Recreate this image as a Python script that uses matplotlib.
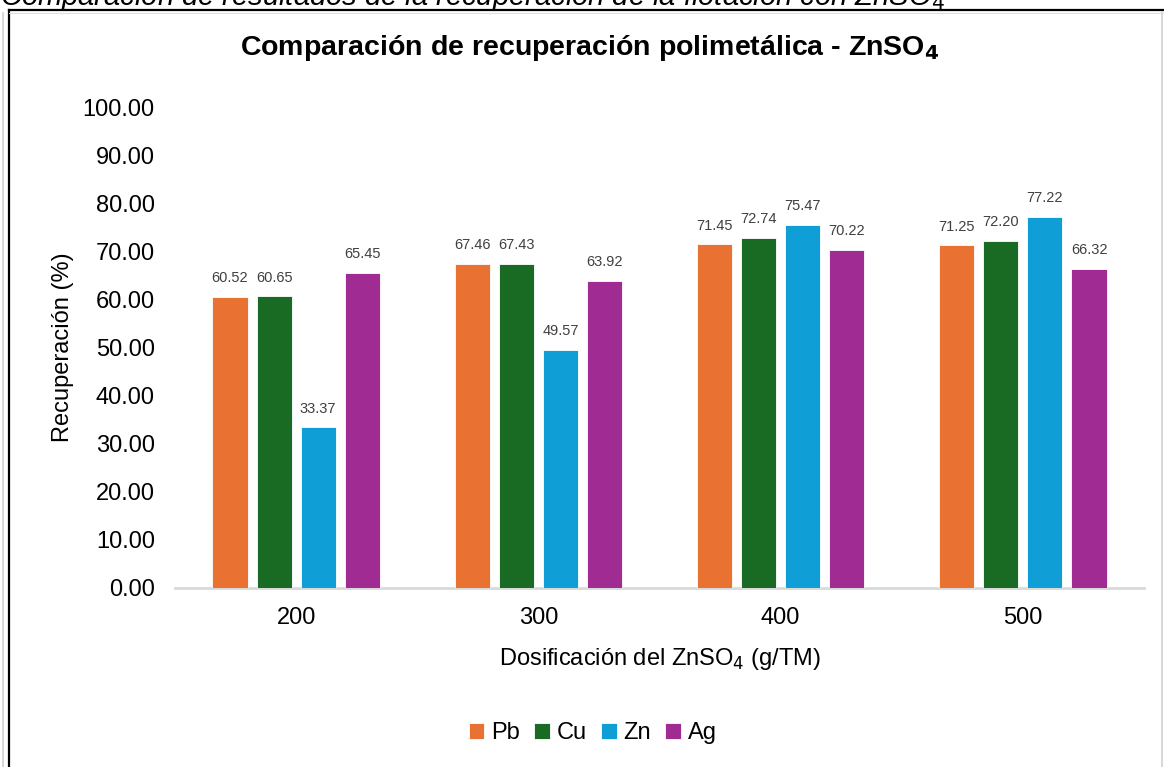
import matplotlib
matplotlib.use("Agg")
import matplotlib.pyplot as plt
from matplotlib.lines import Line2D
import numpy as np

plt.rcParams['font.family'] = ['Liberation Sans', 'DejaVu Sans']

# Data
dosis = ["200", "300", "400", "500"]
metales = ["Pb", "Cu", "Zn", "Ag"]
pb = [60.52, 67.46, 71.45, 71.25]
cu = [60.65, 67.43, 72.74, 72.20]
zn = [33.37, 49.57, 75.47, 77.22]
ag = [65.45, 63.92, 70.22, 66.32]
colores = ["#E97132", "#196B24", "#0F9ED5", "#A02B93"]
yticks = [0, 10, 20, 30, 40, 50, 60, 70, 80, 90, 100]

W, H = 1164, 767
fig = plt.figure(figsize=(W / 100, H / 100), dpi=100)
ax = fig.add_axes([175 / W, 1 - 588 / H, (1144 - 175) / W, (588 - 107) / H])

x = np.arange(len(dosis))
ancho = 0.145
paso = 0.182
series = [pb, cu, zn, ag]
for i, (vals, nombre, col) in enumerate(zip(series, metales, colores)):
    pos = x + (i - 1.5) * paso
    ax.bar(pos, vals, width=ancho, color=col, edgecolor="white",
           linewidth=0.6, label=nombre, zorder=2)
    for xb, v in zip(pos, vals):
        ax.annotate(f"{v:.2f}", xy=(xb, v), xytext=(0, 13.5), textcoords="offset points",
                    ha="center", va="center", fontsize=10.5, color="#404040")

ax.set_xlim(-0.5, len(dosis) - 0.5)
ax.set_ylim(0, 100)
ax.set_yticks(yticks)
ax.set_yticklabels([f"{t:.2f}" for t in yticks], fontsize=17, color="#000000")
ax.set_xticks(x)
ax.set_xticklabels(dosis, fontsize=17, color="#000000")
ax.tick_params(axis="y", length=0, pad=14.5)
ax.tick_params(axis="x", length=0, pad=14)
for s in ["top", "right", "left"]:
    ax.spines[s].set_visible(False)
ax.spines["bottom"].set_color("#D9D9D9")
ax.spines["bottom"].set_linewidth(2)
ax.spines["bottom"].set_zorder(1)

ax.set_ylabel("Recuperación (%)", fontsize=17, labelpad=6)
ax.set_xlabel("Dosificación del ZnSO$_4$ (g/TM)", fontsize=17, labelpad=12)

fig.text(590 / W, 1 - 48 / H, "Comparación de recuperación polimetálica - ZnSO$_\\mathbf{4}$",
         ha="center", va="center", fontsize=20.5, fontweight="bold")

fig.legend(loc="center", bbox_to_anchor=(593 / W, 1 - 733 / H), ncol=4,
           frameon=False, fontsize=17, handlelength=0.65, handleheight=0.65,
           handletextpad=0.3, columnspacing=0.6)

# Caption above the framed chart
fig.text(0.0, 1 - 5 / H, "Comparación de resultados de la recuperación de la flotación con ZnSO$_4$",
         ha="left", va="baseline", fontsize=21, style="italic")

# Frame around the chart
fig.add_artist(Line2D([9 / W, 9 / W], [0, 1 - 10 / H], color="black", lw=1.6, transform=fig.transFigure))
fig.add_artist(Line2D([9 / W, 1], [1 - 10 / H, 1 - 10 / H], color="black", lw=1.6, transform=fig.transFigure))
fig.add_artist(Line2D([3 / W, 3 / W], [0, 1 - 13 / H], color="#CFCFCF", lw=1.2, transform=fig.transFigure))
fig.add_artist(Line2D([1162 / W, 1162 / W], [0, 1 - 12 / H], color="#CFCFCF", lw=1.2, transform=fig.transFigure))
fig.add_artist(Line2D([9 / W, 1], [1 - 12.5 / H, 1 - 12.5 / H], color="#DDDDDD", lw=0.8, transform=fig.transFigure))

fig.savefig("out.png", dpi=100)
